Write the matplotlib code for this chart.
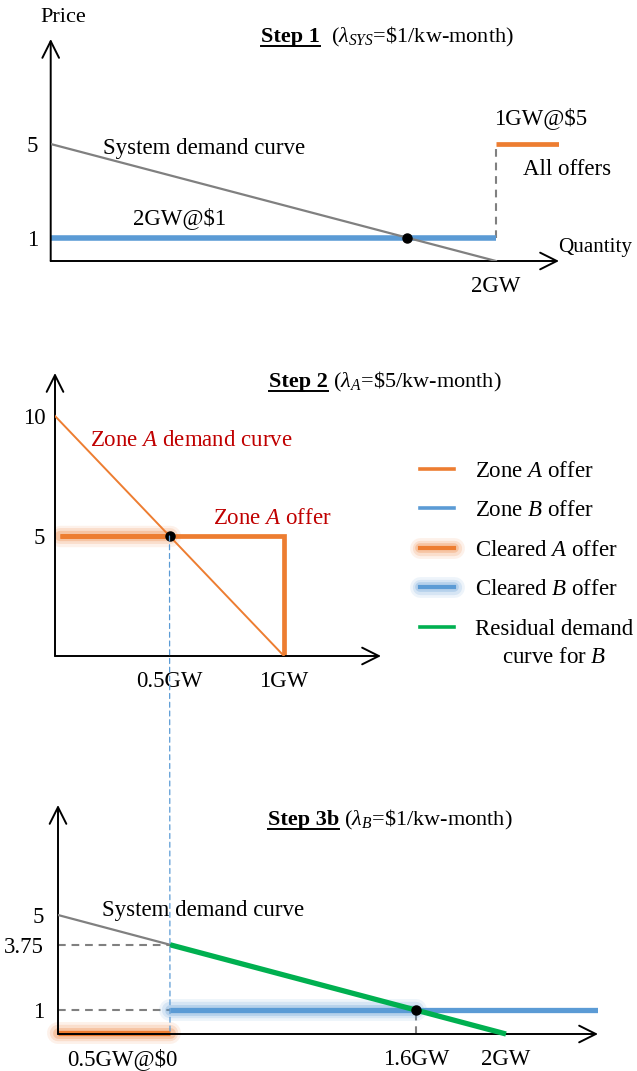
import matplotlib
matplotlib.use('Agg')
import numpy as np
import matplotlib.pyplot as plt
import matplotlib.patheffects as pe
from matplotlib.lines import Line2D
from matplotlib.patches import ConnectionPatch

plt.rcParams['font.family'] = ['Liberation Serif', 'DejaVu Serif']
plt.rcParams['mathtext.fontset'] = 'custom'
plt.rcParams['mathtext.rm'] = 'Liberation Serif'
plt.rcParams['mathtext.it'] = 'Liberation Serif:italic'
plt.rcParams['mathtext.bf'] = 'Liberation Serif:bold'

ORANGE = '#ED7D31'
BLUE = '#5B9BD5'
GREEN = '#00B050'
GRAY = '#808080'
RED = '#C00000'

# ---------------- data ----------------
# Step 1
s1_demand_q = [0, 2]
s1_demand_p = [5, 0]
s1_low_offer_q = [0, 2]
s1_low_offer_p = [1, 1]
s1_high_offer_q = [2, 2.46]
s1_high_offer_p = [5, 5]
s1_step_q = [2, 2]
s1_step_p = [1, 5]
s1_clear_q = [1.6]
s1_clear_p = [1]
s1_xticks = [2]
s1_xticklabels = ['2GW']
s1_yticks = [1, 5]
s1_yticklabels = ['1', '5']

# Step 2
s2_demand_q = [0, 1]
s2_demand_p = [10, 0]
s2_offer_q = [0.02, 1, 1]
s2_offer_p = [5, 5, 0]
s2_cleared_q = [0.02, 0.5]
s2_cleared_p = [5, 5]
s2_clear_q = [0.5]
s2_clear_p = [5]
s2_xticks = [0.5, 1]
s2_xticklabels = ['0.5GW', '1GW']
s2_yticks = [5, 10]
s2_yticklabels = ['5', '10']

# Step 3b
s3_demand_q = [0, 0.5]
s3_demand_p = [5, 3.75]
s3_resid_q = [0.5, 2]
s3_resid_p = [3.75, 0]
s3_clearedA_q = [0, 0.5]
s3_clearedA_p = [0.06, 0.06]
s3_clearedB_q = [0.5, 1.6]
s3_clearedB_p = [1, 1]
s3_offerB_q = [1.6, 2.42]
s3_offerB_p = [1, 1]
s3_clear_q = [1.6]
s3_clear_p = [1]
s3_xticks = [1.6, 2]
s3_xticklabels = ['1.6GW', '2GW']
s3_yticks = [1, 3.75, 5]
s3_yticklabels = ['1', '3.75', '5']

legend_labels = ['Zone $A$ offer', 'Zone $B$ offer', 'Cleared $A$ offer',
                 'Cleared $B$ offer', 'Residual demand']
legend_extra = 'curve for $B$'

FS = 16.5      # annotation text size
TS = 16.5      # tick label size
HS = 16        # heading size

# ---------------- figure ----------------
W, H = 637, 1071
fig = plt.figure(figsize=(W / 100, H / 100), dpi=100)


def panel(ox, oy, tipx, tipy, sx, sy, ypad):
    ax = fig.add_axes([ox / W, 1 - oy / H, (tipx - ox) / W, (oy - tipy) / H])
    ax.set_xlim(0, (tipx - ox) / sx)
    ax.set_ylim(0, (oy - tipy) / sy)
    for s in ax.spines.values():
        s.set_visible(False)
    ax.patch.set_visible(False)
    arrow = dict(arrowstyle='->,head_length=1.2,head_width=0.6', lw=1.4,
                 color='black', shrinkA=0, shrinkB=0, mutation_scale=10)
    ax.annotate('', xy=(1, 0), xytext=(0, 0), xycoords='axes fraction',
                arrowprops=arrow, annotation_clip=False)
    ax.annotate('', xy=(0, 1), xytext=(0, 0), xycoords='axes fraction',
                arrowprops=arrow, annotation_clip=False)
    ax.tick_params(axis='both', length=0, labelsize=TS)
    ax.tick_params(axis='y', pad=ypad)
    ax.tick_params(axis='x', pad=11)
    return ax


def glow(c, lw):
    return [pe.Stroke(linewidth=lw + 12, foreground=c, alpha=0.10, capstyle='round'),
            pe.Stroke(linewidth=lw + 8, foreground=c, alpha=0.16, capstyle='round'),
            pe.Stroke(linewidth=lw + 4, foreground=c, alpha=0.26, capstyle='round'),
            pe.Normal()]


def title(x, yb, bold, rest):
    t1 = fig.text(x / W, 1 - yb / H, bold, fontsize=HS, fontweight='bold',
                  va='baseline', ha='left')
    r = fig.canvas.get_renderer()
    bb = t1.get_window_extent(r)
    fig.text(bb.x1 / W, 1 - yb / H, rest, fontsize=HS, va='baseline', ha='left')
    fig.add_artist(Line2D([bb.x0 / W, bb.x1 / W], [1 - (yb + 3.5) / H] * 2,
                          color='black', lw=1.4, transform=fig.transFigure))


# ---- Step 1 ----
ax1 = panel(50.7, 261, 559, 39, 222.6, 23.4, 9)
ax1.plot(s1_low_offer_q, s1_low_offer_p, color=BLUE, lw=4, solid_capstyle='butt', zorder=2)
ax1.plot(s1_demand_q, s1_demand_p, color=GRAY, lw=1.6, zorder=3)
ax1.plot(s1_high_offer_q, s1_high_offer_p, color=ORANGE, lw=3.4, solid_capstyle='butt', zorder=2)
ax1.plot(s1_step_q, s1_step_p, color=GRAY, lw=1.5, linestyle=(0, (3.7, 2.8)), zorder=1)
ax1.plot(s1_clear_q, s1_clear_p, 'o', color='black', ms=6.5, zorder=5)
ax1.set_xticks(s1_xticks, s1_xticklabels)
ax1.set_yticks(s1_yticks, s1_yticklabels)
ax1.text(0.055, 10.4, 'Price', fontsize=16, ha='center', va='center')
ax1.text(0.235, 4.79, 'System demand curve', fontsize=FS, ha='left', va='center')
ax1.text(0.37, 1.84, '2GW@$1', fontsize=FS, ha='left', va='center')
ax1.text(1.99, 6.11, '1GW@$5', fontsize=FS, ha='left', va='center')
ax1.text(2.12, 3.93, 'All offers', fontsize=FS, ha='left', va='center')
ax1.text(2.28, 0.56, 'Quantity', fontsize=15.2, ha='left', va='center')
title(261, 42, 'Step 1', r'  ($\lambda_{SYS}$=\$1/kw-month)')

# ---- Step 2 ----
ax2 = panel(55, 656, 381, 373, 229, 24, 7)
ax2.plot(s2_offer_q, s2_offer_p, color=ORANGE, lw=3.4, solid_capstyle='butt',
         solid_joinstyle='miter', zorder=2)
ax2.plot(s2_cleared_q, s2_cleared_p, color=ORANGE, lw=3.4, solid_capstyle='butt',
         path_effects=glow(ORANGE, 3.4), zorder=2)
ax2.plot(s2_demand_q, s2_demand_p, color=ORANGE, lw=1.4, zorder=3)
ax2.plot(s2_clear_q, s2_clear_p, 'o', color='black', ms=6.5, zorder=5)
ax2.set_xticks(s2_xticks, s2_xticklabels)
ax2.set_yticks(s2_yticks, s2_yticklabels)
ax2.text(0.154, 9.0, 'Zone $A$ demand curve', color=RED, fontsize=FS, ha='left', va='center')
ax2.text(0.69, 5.75, 'Zone $A$ offer', color=RED, fontsize=FS, ha='left', va='center')
title(269, 387, 'Step 2', r' ($\lambda_{A}$=\$5/kw-month)')

# ---- Step 3b ----
ax3 = panel(58, 1034, 598, 805, 224, 23.8, 10)
ax3.plot([0, s3_demand_q[1]], [s3_demand_p[1]] * 2, color=GRAY, lw=1.5,
         linestyle=(0, (3.7, 2.8)), zorder=1)
ax3.plot([0, s3_clearedB_q[0]], [s3_clearedB_p[0]] * 2, color=GRAY, lw=1.5,
         linestyle=(0, (3.7, 2.8)), zorder=1)
ax3.plot([s3_clear_q[0]] * 2, [0, s3_clear_p[0]], color=GRAY, lw=1.5,
         linestyle=(0, (3.7, 2.8)), zorder=1)
ax3.plot(s3_demand_q, s3_demand_p, color=GRAY, lw=1.6, zorder=3)
ax3.plot(s3_offerB_q, s3_offerB_p, color=BLUE, lw=3.8, solid_capstyle='butt', zorder=2)
ax3.plot(s3_clearedB_q, s3_clearedB_p, color=BLUE, lw=3.8, solid_capstyle='butt',
         path_effects=glow(BLUE, 3.8), zorder=2)
ax3.plot(s3_clearedA_q, s3_clearedA_p, color=ORANGE, lw=3.8, solid_capstyle='butt',
         path_effects=glow(ORANGE, 3.8), zorder=2, clip_on=False)
ax3.plot(s3_resid_q, s3_resid_p, color=GREEN, lw=3.8, solid_capstyle='butt', zorder=4,
         clip_on=False)
ax3.plot(s3_clear_q, s3_clear_p, 'o', color='black', ms=6.5, zorder=5)
ax3.set_xticks(s3_xticks, s3_xticklabels)
ax3.set_yticks(s3_yticks, s3_yticklabels)
ax3.text(0.196, 5.21, 'System demand curve', fontsize=FS, ha='left', va='center')
ax3.annotate('0.5GW@$0', xy=(np.mean(s3_clearedA_q), 0), xytext=(6, -18),
             textcoords='offset points', ha='center', va='center', fontsize=TS,
             annotation_clip=False)
title(268, 825, 'Step 3b', r' ($\lambda_{B}$=\$1/kw-month)')

# vertical dashed link between step 2 clearing and step 3b
con = ConnectionPatch(xyA=(s2_clear_q[0], s2_clear_p[0]), coordsA=ax2.transData,
                      xyB=(s3_clearedA_q[1], 0), coordsB=ax3.transData,
                      color=BLUE, lw=0.9, linestyle=(0, (4, 3)), zorder=1)
fig.add_artist(con)

# ---- legend ----
handles = [Line2D([], [], color=ORANGE, lw=2.6),
           Line2D([], [], color=BLUE, lw=2.6),
           Line2D([], [], color=ORANGE, lw=3, path_effects=glow(ORANGE, 3)),
           Line2D([], [], color=BLUE, lw=3, path_effects=glow(BLUE, 3)),
           Line2D([], [], color=GREEN, lw=2.6)]
leg = fig.legend(handles, legend_labels, loc='upper left',
                 bbox_to_anchor=(420 / W, 1 - 461 / H), frameon=False, fontsize=FS,
                 handlelength=1.5, handletextpad=0.9, labelspacing=0.8,
                 borderpad=0, borderaxespad=0)
fig.canvas.draw()
lbb = leg.get_texts()[-1].get_window_extent(fig.canvas.get_renderer())
fig.text((lbb.x0 + lbb.x1) / 2 / W, (lbb.y0 - 7) / H, legend_extra, fontsize=FS,
         ha='center', va='top')

fig.savefig('out.png', dpi=100)
